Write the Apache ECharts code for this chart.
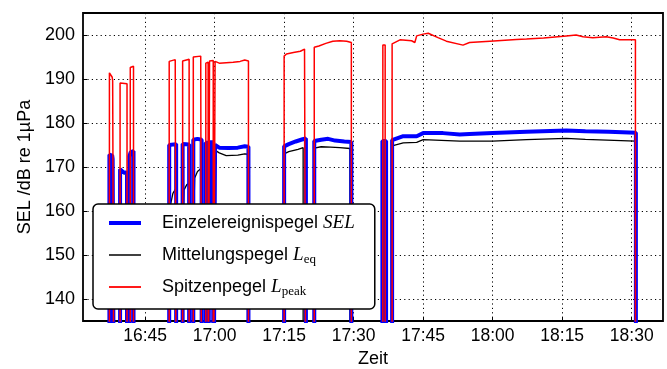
<!DOCTYPE html>
<html>
<head>
<meta charset="utf-8">
<script src="https://cdn.jsdelivr.net/npm/echarts@6/dist/echarts.min.js"></script>
<style>
html, body { margin: 0; padding: 0; background: #fff; }
#pegelChart { width: 667px; height: 369px; }
</style>
</head>
<body>
<div id="pegelChart"></div>
<script>
// Zeiten in Minuten nach 16:00
var xTicks = [45, 60, 75, 90, 105, 120, 135, 150];
var yTicks = [140, 150, 160, 170, 180, 190, 200];

// jede Messung = ein Abschnitt [Minute, Pegel]
var selSegments = [
  [[37.3, 172.8], [37.9, 172.6], [38.0, 171.8], [38.3, 171.7]],
  [[39.6, 169.5], [40.3, 168.8], [41.1, 168.7]],
  [[41.6, 172.4], [41.9, 173.4], [42.5, 173.6]],
  [[50.2, 175.0], [51.7, 175.2]],
  [[53.1, 175.2], [54.5, 175.1]],
  [[55.4, 176.2], [56.3, 176.4], [57.2, 176.2]],
  [[58.1, 175.5], [58.6, 175.5]],
  [[58.9, 175.6], [59.7, 175.6]],
  [[60.1, 175.0], [61.0, 174.4], [63.0, 174.3], [65.0, 174.4], [66.5, 174.7], [67.3, 174.6]],
  [[75.0, 174.7], [76.0, 175.2], [77.5, 175.8], [79.0, 176.3], [79.7, 176.5]],
  [[81.5, 175.9], [83.0, 176.2], [84.5, 176.4], [86.0, 176.0], [88.0, 175.8], [89.5, 175.7]],
  [[96.2, 175.9], [97.0, 175.9]],
  [[98.3, 176.1], [100.7, 177.0], [103.6, 177.0], [105.0, 177.7], [109.3, 177.7], [112.9, 177.4],
   [115.0, 177.5], [120.0, 177.7], [127.3, 178.0], [135.9, 178.3], [140.0, 178.1], [145.0, 178.0], [150.9, 177.8]]
];

var leqSegments = [
  [[37.3, 172.5], [37.9, 172.3], [38.0, 171.5], [38.3, 171.4]],
  [[39.6, 169.2], [40.3, 168.5], [41.1, 168.4]],
  [[41.6, 172.1], [41.9, 173.1], [42.5, 173.3]],
  [[50.2, 150.0], [50.5, 161.5], [51.0, 164.0], [51.7, 165.2]],
  [[53.1, 152.0], [53.4, 164.8], [54.0, 166.0], [54.5, 166.3]],
  [[55.4, 155.0], [55.7, 167.5], [56.3, 169.0], [57.2, 169.8]],
  [[58.1, 169.0], [58.6, 169.8]],
  [[58.9, 170.0], [59.7, 170.8]],
  [[60.1, 173.8], [61.0, 173.2], [62.5, 172.6], [65.0, 172.7], [66.5, 173.0], [67.1, 172.9]],
  [[75.0, 173.0], [76.0, 173.5], [78.0, 174.0], [79.1, 174.4]],
  [[81.5, 174.3], [83.0, 174.6], [85.0, 174.5], [87.0, 174.4], [89.2, 174.2]],
  [[96.2, 175.5], [97.0, 175.5]],
  [[98.3, 174.8], [100.7, 175.5], [103.6, 175.6], [105.0, 176.2], [112.9, 175.9], [120.0, 175.9],
   [127.3, 176.2], [135.9, 176.5], [140.0, 176.3], [150.8, 175.9]]
];

var peakSegments = [
  [[37.3, 191.4], [37.6, 191.3], [37.9, 190.4], [38.0, 189.6], [38.3, 189.5]],
  [[39.6, 189.1], [41.1, 188.9]],
  [[41.8, 192.6], [42.0, 193.0], [42.5, 192.9]],
  [[50.2, 194.0], [50.5, 194.4], [51.5, 194.4], [51.7, 194.1]],
  [[53.1, 194.1], [53.4, 194.4], [54.5, 194.5]],
  [[55.4, 195.0], [55.8, 195.3], [57.0, 195.2], [57.2, 195.0]],
  [[58.1, 193.6], [58.6, 193.8]],
  [[58.9, 194.1], [59.7, 194.2]],
  [[60.1, 194.0], [61.0, 193.6], [62.5, 193.7], [64.0, 193.8], [65.5, 194.0], [66.5, 194.3], [67.3, 194.1]],
  [[75.0, 195.2], [75.5, 195.7], [77.0, 196.0], [78.5, 196.3], [79.4, 196.8], [79.7, 196.5]],
  [[81.5, 197.2], [82.5, 197.5], [84.0, 198.1], [85.5, 198.6], [87.0, 198.7], [88.5, 198.6], [89.5, 198.3]],
  [[96.3, 197.7], [96.8, 197.7]],
  [[98.3, 198.0], [98.6, 198.3], [100.0, 198.9], [102.5, 198.7], [103.2, 198.3], [103.6, 199.8],
   [105.0, 200.2], [106.1, 200.4], [108.2, 199.4], [110.0, 198.6], [113.6, 197.7], [115.0, 198.3],
   [119.4, 198.6], [125.1, 199.0], [127.3, 199.1], [131.0, 199.3], [135.9, 199.8], [138.0, 200.0],
   [139.5, 199.6], [141.6, 199.4], [144.5, 199.6], [146.0, 199.3], [147.4, 198.9], [150.8, 198.9]]
];

var OFF = 100; // kein Signal -> unterhalb der Achse

// Abschnitte aneinanderhaengen, dazwischen auf OFF fallen lassen
function buildLine(segments) {
  var out = [];
  segments.forEach(function (seg) {
    out.push([seg[0][0], OFF]);
    seg.forEach(function (p) { out.push(p); });
    out.push([seg[seg.length - 1][0], OFF]);
  });
  return out;
}

function fmtTime(m) {
  var h = 16 + Math.floor(m / 60);
  var mm = Math.round(m % 60);
  return h + ":" + (mm < 10 ? "0" + mm : mm);
}

var legendText = {
  SEL: "Einzelereignispegel {it|SEL}",
  Leq: "Mittelungspegel {it|L}{sub|eq}",
  Lpeak: "Spitzenpegel {it|L}{sub|peak}"
};

var font = "Liberation Sans";
var dotted = { color: "#000", width: 1, type: [1.2, 3.2] };

var myChart = echarts.init(document.getElementById("pegelChart"));
var option = {
  animation: false,
  backgroundColor: "#fff",
  grid: {
    left: 83,
    right: 4,
    top: 13,
    bottom: 48,
    outerBoundsMode: "none",
    show: true,
    borderColor: "#000",
    borderWidth: 1.8,
    backgroundColor: "transparent"
  },
  legend: {
    orient: "vertical",
    left: 93,
    top: 204,
    padding: [8, 20, 11, 14],
    itemWidth: 32,
    itemHeight: 14,
    itemGap: 10,
    backgroundColor: "#fff",
    borderColor: "#000",
    borderWidth: 1.5,
    borderRadius: 5,
    itemStyle: { opacity: 0 },
    data: [
      { name: "SEL", lineStyle: { width: 4 } },
      { name: "Leq", lineStyle: { width: 1.5 } },
      { name: "Lpeak", lineStyle: { width: 1.8 } }
    ],
    formatter: function (name) {
      return legendText[name];
    },
    textStyle: {
      fontFamily: font,
      fontSize: 18,
      color: "#000",
      lineHeight: 22,
      padding: [0, 0, 0, 16],
      rich: {
        it: { fontFamily: "Liberation Serif", fontStyle: "italic", fontSize: 19, color: "#000", lineHeight: 22 },
        sub: { fontFamily: "Liberation Serif", fontSize: 13, color: "#000", lineHeight: 13, verticalAlign: "bottom" }
      }
    }
  },
  xAxis: {
    type: "value",
    min: 31.6,
    max: 156.75,
    name: "Zeit",
    nameLocation: "middle",
    nameGap: 28,
    nameTextStyle: { fontFamily: font, fontSize: 18, color: "#000" },
    axisLine: { show: false },
    axisTick: { show: true, inside: true, length: 4, customValues: xTicks, lineStyle: { color: "#000" } },
    axisLabel: {
      customValues: xTicks,
      fontFamily: font,
      fontSize: 17.5,
      color: "#000",
      margin: 6,
      formatter: fmtTime
    },
    splitLine: { show: true, lineStyle: dotted }
  },
  yAxis: {
    type: "value",
    min: 135,
    max: 205,
    name: "SEL /dB re 1µPa",
    nameLocation: "middle",
    nameGap: 46,
    nameTextStyle: { fontFamily: font, fontSize: 18, color: "#000" },
    axisLine: { show: false },
    axisTick: { show: true, inside: true, length: 4, customValues: yTicks, lineStyle: { color: "#000" } },
    axisLabel: {
      customValues: yTicks,
      fontFamily: font,
      fontSize: 18,
      color: "#000",
      margin: 8
    },
    splitLine: { show: true, lineStyle: dotted }
  },
  series: [
    {
      name: "SEL",
      type: "line",
      data: buildLine(selSegments),
      symbol: "none",
      showSymbol: false,
      z: 2,
      lineStyle: { color: "#0000ff", width: 4 },
      itemStyle: { color: "#0000ff" }
    },
    {
      name: "Leq",
      type: "line",
      data: buildLine(leqSegments),
      symbol: "none",
      showSymbol: false,
      z: 1,
      lineStyle: { color: "#000", width: 1.3 },
      itemStyle: { color: "#000" }
    },
    {
      name: "Lpeak",
      type: "line",
      data: buildLine(peakSegments),
      symbol: "none",
      showSymbol: false,
      z: 3,
      lineStyle: { color: "#ff0000", width: 1.5 },
      itemStyle: { color: "#ff0000" }
    }
  ]
};
myChart.setOption(option);
</script>
</body>
</html>
